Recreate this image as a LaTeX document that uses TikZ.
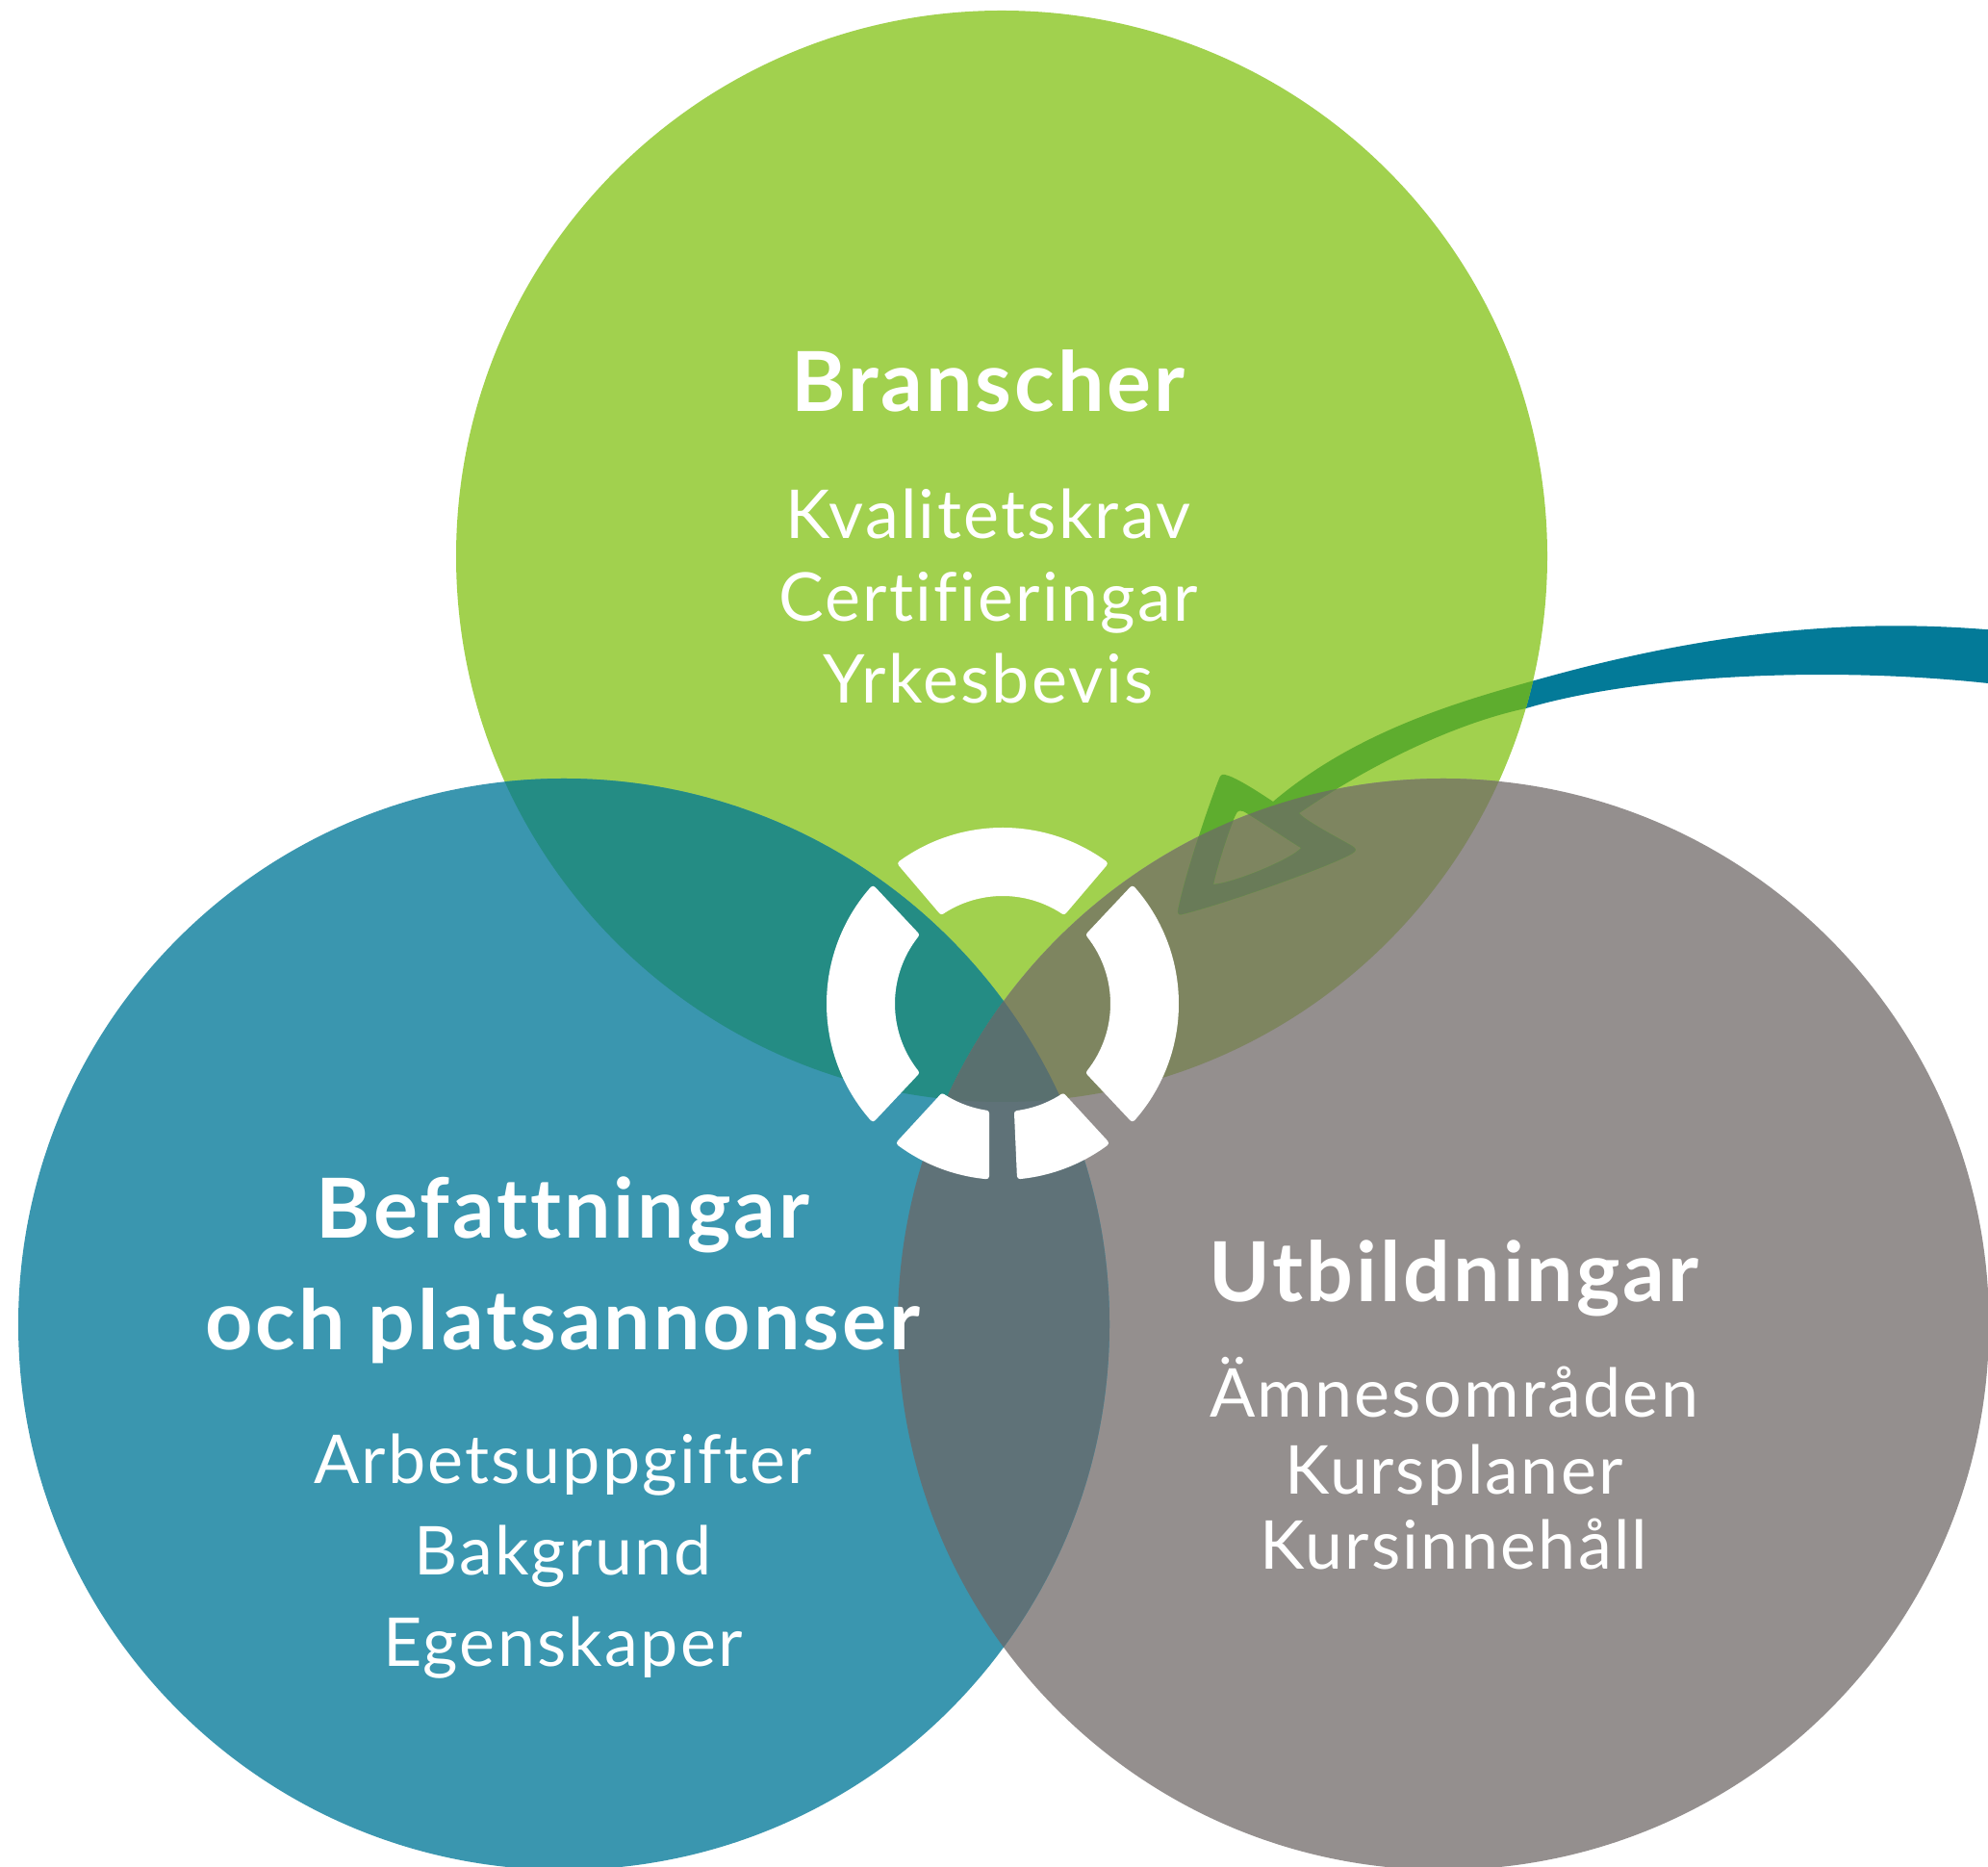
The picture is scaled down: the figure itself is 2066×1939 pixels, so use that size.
\documentclass[tikz,border=0pt]{standalone}
\usetikzlibrary{calc}
\usepackage{fontspec}
\setmainfont{Lato}[Ligatures=NoCommon]
\newfontfamily\subf{Lato}[Ligatures=NoCommon,LetterSpace=3.2]
\newfontfamily\headf{Lato}[Ligatures=NoCommon,LetterSpace=3.5]
\definecolor{cgreen}{HTML}{A1D14E}
\definecolor{cblue}{HTML}{3A96AF}
\definecolor{cgrey}{HTML}{948F8E}
\definecolor{cteal}{HTML}{248C84}
\definecolor{colive}{HTML}{7E8560}
\definecolor{cdark}{HTML}{5F7278}
\definecolor{ctriple}{HTML}{59706F}
\definecolor{carrow}{HTML}{037A98}
\definecolor{carrowg}{HTML}{5EAD2E}
\definecolor{carrowo}{HTML}{697B58}
\newcommand\arrowshape{
  (2075,1284) .. controls (1950,1295) and (1800,1290) .. (1595,1232)
  .. controls (1520,1211) and (1410,1180) .. (1323,1106)
  .. controls (1305,1118) and (1283,1132) .. (1273,1134)
  .. controls (1270,1135) and (1268,1133) .. (1267,1130)
  .. controls (1255,1100) and (1230,1025) .. (1224,992)
  .. controls (1224,989) and (1226,988) .. (1229,989)
  .. controls (1280,1002) and (1385,1040) .. (1405,1052)
  .. controls (1410,1055) and (1410,1057) .. (1405,1060)
  .. controls (1395,1066) and (1358,1085) .. (1350,1094)
  .. controls (1420,1142) and (1510,1187) .. (1586,1203)
  .. controls (1700,1237) and (1900,1248) .. (2075,1228)
  -- cycle
  (1292,1096) .. controls (1300,1092) and (1345,1062) .. (1352,1058)
  .. controls (1345,1048) and (1285,1022) .. (1261,1020)
  .. controls (1265,1040) and (1280,1085) .. (1285,1094)
  .. controls (1287,1097) and (1289,1097) .. (1292,1096) -- cycle
}
\newcommand\circG{(1041,1361) circle[radius=567]}
\newcommand\circB{(586,563) circle[radius=567]}
\newcommand\circU{(1500,563) circle[radius=567]}
\tikzset{
  x=1pt,y=1pt,
  ringseg/.style={fill=white,draw=white,line width=6pt,line join=round},
  headtext/.style={anchor=base,inner sep=0,text=white,font=\headf\bfseries\fontsize{86}{86}\selectfont},
  subtext/.style={anchor=base,inner sep=0,text=white,font=\subf\fontsize{70}{70}\selectfont},
}
\begin{document}
\begin{tikzpicture}
\useasboundingbox (0,0) rectangle (2066,1939);
\fill[white] (0,0) rectangle (2066,1939);
\fill[carrow,even odd rule] \arrowshape;
\fill[cgreen] \circG;
\fill[cgrey] \circU;
\fill[cblue] \circB;
\begin{scope}\clip \circG; \fill[cteal] \circB; \fill[colive] \circU; \end{scope}
\begin{scope}\clip \circB; \fill[cdark] \circU; \end{scope}
\begin{scope}\clip \circG; \clip \circB; \fill[ctriple] \circU; \end{scope}
\begin{scope}\clip \circG; \fill[carrowg,even odd rule] \arrowshape; \end{scope}
\begin{scope}\clip \circG; \clip \circU; \fill[carrowo,even odd rule] \arrowshape; \end{scope}
% ring
\coordinate (rc) at (1042,896);
\path[ringseg] ($(rc)+(126:180)$) arc[start angle=126,end angle=54,radius=180] -- ($(rc)+(56.5:115)$) arc[start angle=56.5,end angle=123.5,radius=115] -- cycle;
\path[ringseg] ($(rc)+(138.5:180)$) arc[start angle=138.5,end angle=221.5,radius=180] -- ($(rc)+(218.5:115)$) arc[start angle=218.5,end angle=141.5,radius=115] -- cycle;
\path[ringseg] ($(rc)+(41.5:180)$) arc[start angle=41.5,end angle=-41.5,radius=180] -- ($(rc)+(-38.5:115)$) arc[start angle=-38.5,end angle=38.5,radius=115] -- cycle;
\path[ringseg] ($(rc)+(233.5:180)$) arc[start angle=233.5,end angle=264.6,radius=180] -- ($(rc)+(261.5:115)$) arc[start angle=261.5,end angle=237,radius=115] -- cycle;
\path[ringseg] ($(rc)+(275.7:180)$) arc[start angle=275.7,end angle=306.5,radius=180] -- ($(rc)+(303:115)$) arc[start angle=303,end angle=277.5,radius=115] -- cycle;
% text
\node[headtext] (bh) at (1027,1511) {Branscher};
\node[subtext] (b1) at (1027,1379) {Kvalitetskrav};
\node[subtext] (b2) at (1027,1293) {Certifieringar};
\node[subtext] (b3) at (1027,1208) {Yrkesbevis};
\node[headtext] (fh1) at (585,652) {Befattningar};
\node[headtext] (fh2) at (585,536) {och platsannonser};
\node[subtext] (f1) at (585,397) {Arbetsuppgifter};
\node[subtext] (f2) at (585,303) {Bakgrund};
\node[subtext] (f3) at (585,208) {Egenskaper};
\node[headtext] (uh) at (1511,586) {Utbildningar};
\node[subtext] (u1) at (1511,466) {Ämnesområden};
\node[subtext] (u2) at (1511,387) {Kursplaner};
\node[subtext] (u3) at (1511,309) {Kursinnehåll};
\end{tikzpicture}
\end{document}
